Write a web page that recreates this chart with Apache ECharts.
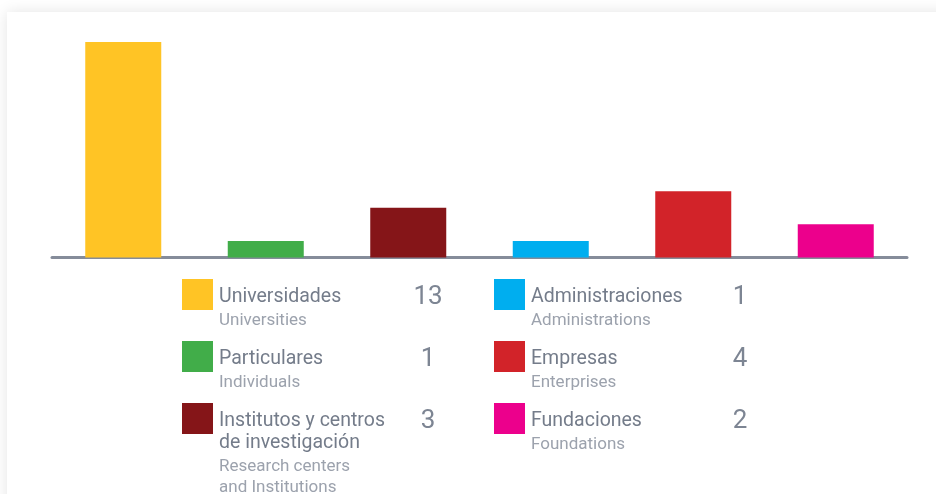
<!DOCTYPE html>
<html>
<head>
<meta charset="utf-8">
<script src="https://cdn.jsdelivr.net/npm/echarts@6/dist/echarts.min.js"></script>
<style>
  html, body { margin: 0; padding: 0; background: #fff; overflow: hidden; }
  .card {
    position: absolute; left: 7px; top: 12px; width: 1000px; height: 600px;
    background: #fff; box-shadow: 0 0 14px rgba(0, 0, 0, 0.11);
  }
  #chart { position: absolute; left: 0; top: 0; width: 936px; height: 494px; }
</style>
</head>
<body>
<div class="card"></div>
<div id="chart"></div>
<script>
// data
const categories = ['Universidades', 'Particulares', 'Institutos y centros\nde investigación', 'Administraciones', 'Empresas', 'Fundaciones']
const englishLabels = ['Universities', 'Individuals', 'Research centers\nand Institutions', 'Administrations', 'Enterprises', 'Foundations']
const counts = [13, 1, 3, 1, 4, 2]
const colors = ['#ffc425', '#41ad49', '#851518', '#00aeef', '#d22329', '#ec008c']
// legend order: left column then right column
const legendOrder = [0, 1, 2, 3, 4, 5]

const chart = echarts.init(document.getElementById('chart'))

// legend table below the bars
let graphics = []
legendOrder.forEach((idx, n) => {
  const col = Math.floor(n / 3)
  const row = n % 3
  const sx = col === 0 ? 182 : 494
  const numX = col === 0 ? 428 : 740
  const top = 279 + row * 62
  const mainLines = categories[idx].split('\n').length
  graphics.push({
    type: 'rect',
    shape: { x: sx, y: top, width: 31, height: 31 },
    style: { fill: colors[idx] }
  })
  graphics.push({
    type: 'text',
    x: sx + 37, y: top + 7,
    style: {
      text: categories[idx], fill: '#747c8a',
      font: '19.5px Roboto', lineHeight: 22, verticalAlign: 'top'
    }
  })
  graphics.push({
    type: 'text',
    x: sx + 37, y: top + 31.5 + (mainLines - 1) * 22,
    style: {
      text: englishLabels[idx], fill: '#9ca2ad',
      font: '17px Roboto', lineHeight: 21, verticalAlign: 'top'
    }
  })
  graphics.push({
    type: 'text',
    x: numX, y: top + 18,
    style: {
      text: String(counts[idx]), fill: '#7d8593',
      font: '26px Roboto', align: 'center', verticalAlign: 'middle'
    }
  })
})

const option = {
  backgroundColor: 'transparent',
  animation: false,
  grid: { left: 52, right: 29, top: 42, bottom: 236.5 },
  xAxis: {
    type: 'category',
    data: categories,
    axisLine: { show: true, lineStyle: { color: '#858c9a', width: 3 } },
    axisTick: { show: false },
    axisLabel: { show: false }
  },
  yAxis: {
    type: 'value',
    min: 0,
    max: 13,
    show: false,
    splitLine: { show: false }
  },
  series: [
    {
      type: 'bar',
      barWidth: 76,
      data: counts.map((v, i) => ({ value: v, itemStyle: { color: colors[i] } }))
    }
  ],
  graphic: graphics
}
chart.setOption(option)
</script>
</body>
</html>
